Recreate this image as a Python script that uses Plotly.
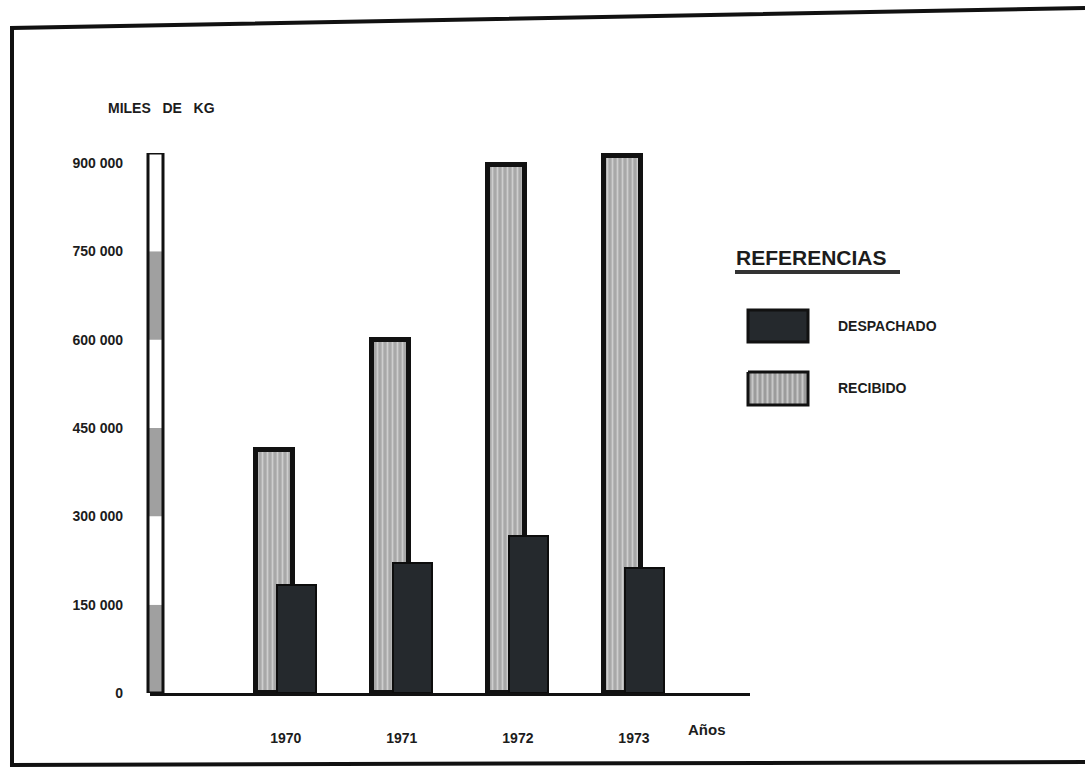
import plotly.graph_objects as go

# ---- data ----
years = ["1970", "1971", "1972", "1973"]
recibido = [413000, 600000, 897000, 912000]
despachado = [183000, 221000, 267000, 212000]
y_ticks = [0, 150000, 300000, 450000, 600000, 750000, 900000]
y_tick_labels = ["0", "150 000", "300 000", "450 000", "600 000", "750 000", "900 000"]
y_title = "MILES   DE   KG"
x_title = "Años"
legend_title = "REFERENCIAS"
series_names = ["DESPACHADO", "RECIBIDO"]

W, H = 1085, 771
PL, PR, PT, PB = 150, 750, 153, 693
Y_TOP = 917000
FONT = "Liberation Sans"
TXT = "#1c1c1c"

x_pos = list(range(len(years)))

fig = go.Figure()
fig.add_trace(go.Bar(
    x=x_pos, y=recibido, name=series_names[1], width=0.32, offset=-0.26,
    marker=dict(color="#b8b8b8", line=dict(color="#111111", width=5),
                pattern=dict(shape="|", fgcolor="#f3f3f3", bgcolor="#a8a8a8",
                             size=5, solidity=0.35)),
    showlegend=False))
fig.add_trace(go.Bar(
    x=x_pos, y=despachado, name=series_names[0], width=0.34, offset=-0.08,
    marker=dict(color="#25292d", line=dict(color="#0d0d0d", width=2)),
    showlegend=False))

# legend swatch with pattern (pixel-coordinate overlay axes)
lx0, lx1 = 748, 808
fig.add_trace(go.Scatter(
    x=[lx0, lx1, lx1, lx0, lx0], y=[372, 372, 405, 405, 372],
    xaxis="x2", yaxis="y2", mode="lines", fill="toself",
    line=dict(color="#111111", width=3),
    fillcolor="#b8b8b8",
    fillpattern=dict(shape="|", fgcolor="#f3f3f3", bgcolor="#9c9c9c", size=5, solidity=0.4),
    showlegend=False, hoverinfo="skip"))

shapes = []
# scale bar acting as y axis
for i in range(len(y_ticks) - 1):
    shapes.append(dict(type="rect", xref="x2", yref="y", x0=149, x1=162,
                       y0=y_ticks[i], y1=y_ticks[i + 1],
                       fillcolor="#a0a0a0" if i % 2 == 0 else "white",
                       line=dict(width=0), layer="above"))
shapes.append(dict(type="rect", xref="x2", yref="y", x0=148, x1=163,
                   y0=0, y1=Y_TOP, line=dict(color="#111111", width=3), layer="above"))
# outer frame
shapes.append(dict(type="path", xref="x2", yref="y2",
                   path="M 12,765 L 12,28 L 1085,8",
                   line=dict(color="#111111", width=4)))
shapes.append(dict(type="line", xref="x2", yref="y2", x0=10, x1=1085, y0=765, y1=762,
                   line=dict(color="#111111", width=4)))
# legend
shapes.append(dict(type="line", xref="x2", yref="y2", x0=735, x1=900, y0=272, y1=272,
                   line=dict(color="#333333", width=4)))
shapes.append(dict(type="rect", xref="x2", yref="y2", x0=lx0, x1=lx1, y0=310, y1=342,
                   fillcolor="#25292d", line=dict(color="#111111", width=3)))

annotations = [
    dict(xref="x2", yref="y2", x=106, y=108, text=f"<b>{y_title}</b>", showarrow=False,
         xanchor="left", yanchor="middle", font=dict(family=FONT, size=14, color=TXT)),
    dict(xref="x2", yref="y2", x=686, y=729, text=f"<b>{x_title}</b>", showarrow=False,
         xanchor="left", yanchor="middle", font=dict(family=FONT, size=15, color=TXT)),
    dict(xref="x2", yref="y2", x=734, y=257, text=f"<b>{legend_title}</b>", showarrow=False,
         xanchor="left", yanchor="middle", font=dict(family=FONT, size=21, color=TXT)),
    dict(xref="x2", yref="y2", x=836, y=326, text=f"<b>{series_names[0]}</b>", showarrow=False,
         xanchor="left", yanchor="middle", font=dict(family=FONT, size=14, color=TXT)),
    dict(xref="x2", yref="y2", x=836, y=388, text=f"<b>{series_names[1]}</b>", showarrow=False,
         xanchor="left", yanchor="middle", font=dict(family=FONT, size=14, color=TXT)),
]

fig.update_layout(
    width=W, height=H,
    margin=dict(l=0, r=0, t=0, b=0),
    paper_bgcolor="white", plot_bgcolor="rgba(0,0,0,0)",
    barmode="overlay", bargap=0,
    font=dict(family=FONT, size=14, color=TXT),
    xaxis=dict(domain=[PL / W, PR / W], range=[-1.17, 4.0],
               tickvals=x_pos, ticktext=[f"<b>{t}</b>" for t in years],
               ticks="", ticklabelstandoff=30,
               showline=True, linecolor="#111111", linewidth=3,
               showgrid=False, zeroline=False, automargin=False,
               tickfont=dict(family=FONT, size=14, color=TXT)),
    yaxis=dict(domain=[(H - PB) / H, (H - PT) / H], range=[0, Y_TOP],
               tickvals=y_ticks, ticktext=[f"<b>{t}</b>" for t in y_tick_labels],
               ticks="", ticklabelstandoff=26, showline=False, showgrid=False,
               zeroline=False, automargin=False,
               tickfont=dict(family=FONT, size=14, color=TXT)),
    xaxis2=dict(domain=[0, 1], range=[0, W], visible=False, anchor="y2",
                fixedrange=True),
    yaxis2=dict(domain=[0, 1], range=[H, 0], visible=False, anchor="x2",
                fixedrange=True),
    shapes=shapes, annotations=annotations,
)

fig.write_html("out.html", config={"displayModeBar": False},
               post_script="document.body.style.margin='0px';")
